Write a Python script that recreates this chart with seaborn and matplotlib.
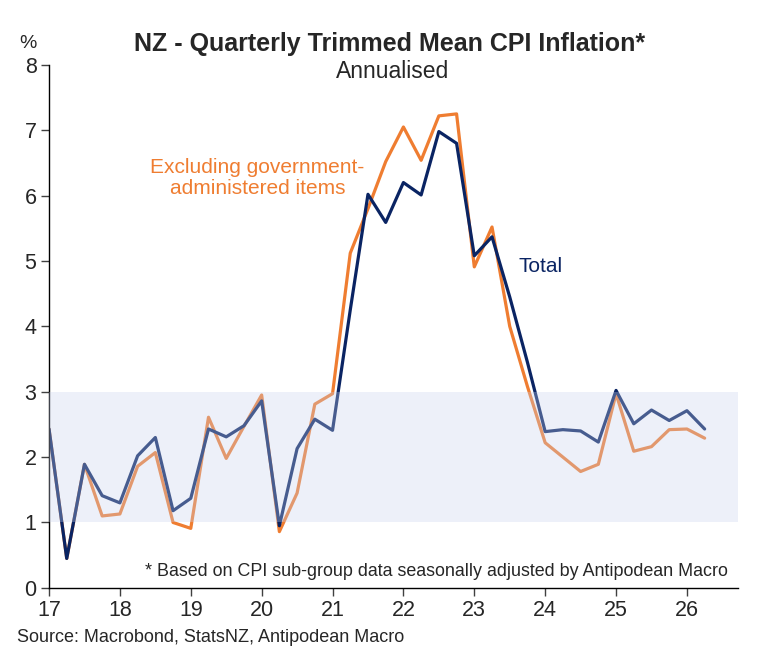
import matplotlib
matplotlib.use("Agg")
import matplotlib.pyplot as plt
import numpy as np
import pandas as pd
import seaborn as sns

# --- DATA ---
quarters = pd.period_range("2017Q1", "2026Q2", freq="Q")
total = [2.43, 0.45, 1.89, 1.41,
         1.30, 2.02, 2.30, 1.18,
         1.37, 2.43, 2.31, 2.48,
         2.86, 0.95, 2.13, 2.58,
         2.41, 4.25, 6.02, 5.59,
         6.20, 6.01, 6.98, 6.80,
         5.08, 5.37, 4.45, 3.45,
         2.39, 2.42, 2.40, 2.23,
         3.02, 2.51, 2.72, 2.56,
         2.71, 2.43]
ex_govt = [2.43, 0.45, 1.89, 1.10,
           1.13, 1.86, 2.07, 1.00,
           0.91, 2.61, 1.98, 2.47,
           2.95, 0.86, 1.45, 2.81,
           2.97, 5.12, 5.80, 6.52,
           7.05, 6.54, 7.22, 7.25,
           4.91, 5.52, 4.00, 3.08,
           2.22, 2.00, 1.78, 1.89,
           2.97, 2.09, 2.16, 2.42,
           2.43, 2.29]
year_ticks = [17, 18, 19, 20, 21, 22, 23, 24, 25, 26]
target_band = (1, 3)

NAVY = "#0a2463"
ORANGE = "#ef7d31"

df = pd.DataFrame({
    "x": (quarters.year - 2000) + (quarters.quarter - 1) / 4,
    "Total": total,
    "Excluding": ex_govt,
})

sns.set_style("white")
plt.rcParams["font.family"] = ["Liberation Sans", "DejaVu Sans"]

fig = plt.figure(figsize=(7.6, 6.62), dpi=100)
ax = fig.add_axes([0.0645, 0.112, 0.9065, 0.790])

sns.lineplot(data=df, x="x", y="Excluding", color=ORANGE, linewidth=2.3, ax=ax, zorder=2)
sns.lineplot(data=df, x="x", y="Total", color=NAVY, linewidth=2.3, ax=ax, zorder=2.5)

# target band drawn on top, translucent
ax.axhspan(target_band[0], target_band[1], color="#c8d3ef", alpha=0.32, lw=0, zorder=3)

ax.set_xlim(17, 26.72)
ax.set_ylim(0, 8)
ax.set_xticks(year_ticks)
ax.set_xticklabels([str(t) for t in year_ticks])
ax.set_yticks(range(0, 9))
ax.tick_params(axis="both", labelsize=15.5, direction="out", length=6, width=1, color="#404040", pad=3)
ax.tick_params(axis="y", left=True)
ax.tick_params(axis="x", bottom=True)
ax.set_xlabel("")
ax.set_ylabel("")
for s in ["top", "right"]:
    ax.spines[s].set_visible(False)
for s in ["left", "bottom"]:
    ax.spines[s].set_color("black")
    ax.spines[s].set_linewidth(1)

# texts
fig.text(390 / 760, 1 - 44 / 662, "NZ - Quarterly Trimmed Mean CPI Inflation*", ha="center", va="center",
         fontsize=18, fontweight="bold")
fig.text(393 / 760, 1 - 71 / 662, "Annualised", ha="center", va="center", fontsize=16.5)
fig.text(28 / 760, 1 - 43 / 662, "%", ha="center", va="center", fontsize=14)

ax.text(19.94, 6.27, "Excluding government-\nadministered items", color=ORANGE, fontsize=15,
        ha="center", va="center", linespacing=1.1)
ax.text(23.93, 4.91, "Total", color=NAVY, fontsize=15, ha="center", va="center")
ax.text(26.58, 0.25, "* Based on CPI sub-group data seasonally adjusted by Antipodean Macro",
        fontsize=12.9, ha="right", va="center")
fig.text(17 / 760, 1 - 637 / 662, "Source: Macrobond, StatsNZ, Antipodean Macro", fontsize=13,
         ha="left", va="center")

fig.savefig("out.png", dpi=100)
